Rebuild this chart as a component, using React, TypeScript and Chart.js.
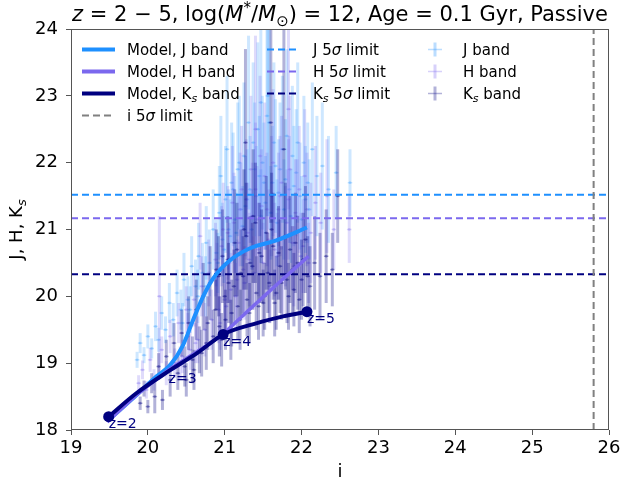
import React, { useEffect, useRef } from 'react';
import { Chart, registerables } from 'chart.js';

Chart.register(...registerables);

const FONT = "'DejaVu Sans', sans-serif";

// ---------- axes ----------
const xTickValues = [19, 20, 21, 22, 23, 24, 25, 26];
const yTickValues = [18, 19, 20, 21, 22, 23, 24];

// ---------- 5 sigma limits ----------
const limitJ = 21.52;
const limitH = 21.17;
const limitKs = 20.33;
const limitI = 25.8;

// ---------- model tracks (z = 2 .. 5) ----------
const modelJ_i = [19.47, 19.85, 20.11, 20.29, 20.45, 20.59, 20.72, 20.85, 21.07, 21.33, 21.68, 22.07];
const modelJ_m = [18.13, 18.52, 18.8, 18.97, 19.25, 19.65, 20.0, 20.27, 20.54, 20.72, 20.84, 21.03];

const modelH_i = [19.47, 19.85, 20.27, 20.64, 20.98, 21.3, 21.7, 22.09];
const modelH_m = [18.12, 18.52, 18.9, 19.17, 19.44, 19.78, 20.2, 20.6];

const modelKs_i = [19.49, 19.85, 20.27, 20.64, 20.98, 21.42, 21.76, 22.07];
const modelKs_m = [18.2, 18.55, 18.88, 19.15, 19.43, 19.6, 19.7, 19.77];

const zLabels = ['z=2', 'z=3', 'z=4', 'z=5'];
const zKs_i = [19.49, 20.27, 20.98, 22.07];
const zKs_m = [18.2, 18.88, 19.43, 19.77];
const zMarkerShown = [true, false, true, true];

// ---------- observed sources ----------
const obsJ_i = [19.86, 19.9, 19.95, 20.0, 20.05, 20.1, 20.14, 20.18, 20.23, 20.28, 20.33, 20.38, 20.43, 20.47, 20.52, 20.57, 20.62, 20.66, 20.71, 20.76, 20.8, 20.85, 20.89, 20.93, 20.97, 21.01, 21.05, 21.09, 21.13, 21.17, 21.21, 21.25, 21.29, 21.33, 21.37, 21.41, 21.45, 21.49, 21.53, 21.58, 21.62, 21.66, 21.7, 21.75, 21.79, 21.84, 21.88, 21.93, 21.98, 22.03, 22.08, 22.14, 22.2, 22.27, 22.35, 22.45, 22.63,
  20.91, 20.95, 20.99, 21.03, 21.07, 21.11, 21.15, 21.19, 21.23, 21.27, 21.31, 21.35, 21.39, 21.43, 21.47, 21.51, 21.55, 21.6, 21.64, 21.68, 21.72, 21.77, 21.81, 21.86, 21.9, 21.95, 22.0, 22.05, 22.1, 20.55, 20.65, 20.75, 20.45, 21.56, 21.47];
const obsJ_m = [19.05, 19.3, 19.12, 19.4, 19.22, 19.55, 19.35, 19.75, 19.5, 19.9, 19.65, 20.05, 19.8, 20.25, 19.95, 20.45, 20.15, 20.6, 20.35, 20.8, 20.5, 21.0, 20.65, 21.25, 20.85, 21.45, 21.0, 21.7, 21.15, 21.9, 21.3, 22.1, 21.45, 21.6, 22.3, 21.5, 21.8, 22.0, 21.4, 22.6, 21.7, 21.95, 21.55, 22.2, 21.75, 21.6, 22.1, 21.85, 21.5, 22.0, 21.7, 22.2, 21.8, 21.95, 21.6, 21.85, 21.7,
  20.5, 21.8, 20.7, 22.2, 20.9, 21.6, 20.95, 22.0, 21.05, 21.35, 22.6, 21.0, 21.9, 22.5, 21.2, 21.7, 22.7, 21.25, 22.3, 21.1, 21.9, 21.3, 22.4, 21.2, 21.65, 22.3, 21.15, 21.45, 21.3, 19.8, 20.0, 20.15, 19.6, 23.0, 22.9];
const obsJ_e = [0.12, 0.15, 0.12, 0.18, 0.15, 0.22, 0.18, 0.25, 0.2, 0.3, 0.25, 0.35, 0.3, 0.4, 0.35, 0.45, 0.4, 0.5, 0.45, 0.55, 0.5, 0.6, 0.5, 0.7, 0.55, 0.8, 0.6, 0.9, 0.65, 1.0, 0.7, 1.1, 0.75, 0.8, 1.2, 0.75, 0.9, 1.0, 0.7, 1.6, 0.85, 1.0, 0.8, 1.1, 0.9, 0.8, 1.05, 0.95, 0.8, 1.0, 0.9, 1.0, 0.9, 0.95, 0.8, 0.7, 0.5,
  0.45, 0.9, 0.5, 1.1, 0.55, 0.85, 0.6, 1.0, 0.6, 0.75, 1.3, 0.6, 1.0, 1.3, 0.7, 0.9, 1.5, 0.7, 1.2, 0.65, 1.0, 0.75, 1.3, 0.7, 0.9, 1.2, 0.65, 0.8, 0.75, 0.35, 0.4, 0.45, 0.3, 1.8, 1.7];

const obsH_i = [19.88, 19.93, 19.98, 20.03, 20.08, 20.15, 20.18, 20.24, 20.29, 20.35, 20.4, 20.45, 20.5, 20.55, 20.6, 20.65, 20.7, 20.74, 20.79, 20.83, 20.88, 20.92, 20.96, 21.0, 21.04, 21.08, 21.12, 21.16, 21.2, 21.24, 21.28, 21.32, 21.36, 21.4, 21.44, 21.48, 21.52, 21.57, 21.61, 21.65, 21.7, 21.74, 21.79, 21.83, 21.88, 21.92, 21.97, 22.02, 22.07, 22.12, 22.18, 22.25, 22.33, 22.42, 22.62,
  20.9, 20.94, 20.98, 21.02, 21.06, 21.1, 21.14, 21.18, 21.22, 21.26, 21.3, 21.34, 21.38, 21.42, 21.46, 21.5, 21.55, 21.59, 21.63, 21.68, 21.72, 21.76, 21.81, 21.85, 21.9, 21.94, 21.99, 22.04, 22.09, 20.52, 20.62, 20.68, 20.42, 21.83, 21.4];
const obsH_m = [18.7, 18.9, 18.6, 19.05, 18.75, 20.0, 19.2, 18.85, 19.4, 19.0, 19.6, 19.1, 19.8, 19.2, 19.95, 19.35, 20.15, 19.5, 20.35, 19.65, 20.55, 19.8, 20.75, 19.95, 20.95, 20.1, 21.1, 20.25, 21.3, 20.4, 21.45, 20.55, 21.2, 21.6, 20.7, 21.35, 21.8, 20.85, 21.5, 20.7, 21.3, 21.7, 20.9, 21.45, 20.8, 21.25, 21.6, 20.75, 21.3, 20.95, 21.4, 21.1, 21.5, 21.0, 21.0,
  20.3, 19.6, 21.0, 19.85, 20.5, 21.4, 20.0, 20.8, 21.6, 20.2, 20.95, 21.9, 20.35, 21.15, 22.1, 20.5, 21.3, 20.15, 22.0, 20.6, 21.5, 20.3, 21.1, 21.9, 20.45, 21.2, 20.6, 21.8, 20.5, 19.4, 19.3, 20.9, 19.0, 22.8, 22.5];
const obsH_e = [0.12, 0.14, 0.13, 0.18, 0.16, 1.2, 0.2, 0.18, 0.25, 0.22, 0.3, 0.25, 0.35, 0.3, 0.4, 0.35, 0.45, 0.4, 0.5, 0.45, 0.55, 0.5, 0.6, 0.5, 0.7, 0.55, 0.75, 0.6, 0.85, 0.65, 0.9, 0.7, 0.8, 1.0, 0.7, 0.85, 1.1, 0.75, 0.9, 0.7, 0.85, 1.0, 0.75, 0.9, 0.7, 0.8, 0.95, 0.7, 0.85, 0.75, 0.85, 0.75, 0.85, 0.6, 0.5,
  0.5, 0.4, 0.7, 0.45, 0.6, 0.85, 0.5, 0.7, 0.95, 0.55, 0.75, 1.1, 0.55, 0.8, 1.2, 0.6, 0.85, 0.55, 1.1, 0.65, 0.9, 0.6, 0.8, 1.1, 0.6, 0.85, 0.65, 1.0, 0.6, 0.35, 0.3, 0.5, 0.25, 1.5, 1.4];

const obsKs_i = [19.9, 19.95, 20.0, 20.05, 20.09, 20.14, 20.19, 20.24, 20.29, 20.34, 20.39, 20.44, 20.48, 20.53, 20.58, 20.63, 20.67, 20.72, 20.76, 20.81, 20.85, 20.89, 20.93, 20.97, 21.01, 21.05, 21.09, 21.13, 21.17, 21.21, 21.25, 21.29, 21.33, 21.37, 21.41, 21.45, 21.5, 21.54, 21.58, 21.63, 21.67, 21.72, 21.77, 21.81, 21.85, 21.9, 21.95, 22.0, 22.05, 22.11, 22.17, 22.24, 22.32, 22.4, 22.47,
  20.88, 20.92, 20.96, 21.0, 21.04, 21.08, 21.12, 21.16, 21.2, 21.24, 21.28, 21.32, 21.36, 21.4, 21.44, 21.48, 21.52, 21.56, 21.61, 21.65, 21.7, 21.74, 21.79, 21.83, 21.88, 21.92, 21.97, 22.02, 22.08, 20.6, 20.7, 20.78, 20.5, 21.6, 21.27];
const obsKs_m = [18.4, 18.62, 18.35, 18.7, 18.5, 18.95, 18.45, 19.1, 18.75, 19.3, 18.85, 19.45, 18.95, 19.6, 19.05, 19.8, 19.2, 20.0, 19.3, 20.2, 19.4, 20.4, 19.55, 20.6, 19.65, 20.2, 19.75, 20.8, 19.85, 20.35, 21.0, 19.95, 20.5, 21.2, 20.05, 20.65, 19.9, 20.95, 20.2, 20.75, 20.05, 20.45, 22.2, 20.25, 20.7, 20.1, 20.5, 20.25, 20.85, 20.15, 20.5, 20.3, 20.6, 20.4, 21.5,
  19.8, 20.3, 19.35, 20.0, 20.55, 19.5, 20.15, 20.7, 19.65, 20.3, 20.9, 19.75, 20.45, 21.1, 19.85, 20.6, 20.0, 20.35, 21.0, 19.9, 20.65, 20.2, 20.9, 20.0, 20.4, 20.8, 19.95, 20.55, 20.3, 18.9, 19.15, 19.6, 18.75, 22.6, 22.3];
const obsKs_e = [0.1, 0.12, 0.1, 0.15, 0.25, 0.2, 0.15, 0.25, 0.25, 0.3, 0.25, 0.35, 0.3, 0.4, 0.35, 0.45, 0.35, 0.5, 0.4, 0.55, 0.4, 0.6, 0.45, 0.7, 0.45, 0.6, 0.5, 0.8, 0.5, 0.65, 0.9, 0.55, 0.7, 1.0, 0.55, 0.75, 0.5, 0.85, 0.6, 0.8, 0.55, 0.7, 1.9, 0.65, 0.8, 0.55, 0.7, 0.6, 0.8, 0.6, 0.7, 0.65, 0.7, 0.55, 0.7,
  0.45, 0.6, 0.4, 0.5, 0.65, 0.45, 0.55, 0.7, 0.45, 0.6, 0.8, 0.45, 0.65, 0.9, 0.5, 0.7, 0.5, 0.6, 0.85, 0.5, 0.7, 0.55, 0.8, 0.5, 0.65, 0.75, 0.5, 0.7, 0.6, 0.3, 0.35, 0.4, 0.25, 1.5, 1.4];

const obsXErr = 0.03;

// ---------- colours ----------
const C_J = '#1e90ff';
const C_H = '#7b68ee';
const C_KS = '#000080';
const C_I = '#808080';
const BAR_J = 'rgba(30,144,255,0.22)';
const BAR_H = 'rgba(123,104,238,0.24)';
const BAR_KS = 'rgba(0,0,128,0.3)';
const AXIS_C = '#555555';

type Part = { t: string; it?: boolean; sub?: boolean; sup?: boolean };

function partFont(p: Part, size: number) {
  const s = p.sub || p.sup ? Math.round(size * 0.7) : size;
  return `${p.it ? 'italic ' : ''}${s}px ${FONT}`;
}

function richWidth(ctx: CanvasRenderingContext2D, parts: Part[], size: number) {
  let w = 0;
  for (const p of parts) {
    ctx.font = partFont(p, size);
    w += ctx.measureText(p.t).width;
  }
  return w;
}

function drawRich(ctx: CanvasRenderingContext2D, parts: Part[], x: number, y: number, size: number, align: 'left' | 'center', color: string) {
  ctx.save();
  ctx.fillStyle = color;
  ctx.textBaseline = 'alphabetic';
  ctx.textAlign = 'left';
  const w = richWidth(ctx, parts, size);
  let cx = align === 'center' ? x - w / 2 : x;
  for (const p of parts) {
    ctx.font = partFont(p, size);
    const dy = p.sub ? size * 0.22 : p.sup ? -size * 0.4 : 0;
    ctx.fillText(p.t, cx, y + dy);
    cx += ctx.measureText(p.t).width;
  }
  ctx.restore();
}

const bands = [
  { i: obsJ_i, m: obsJ_m, e: obsJ_e, color: BAR_J },
  { i: obsH_i, m: obsH_m, e: obsH_e, color: BAR_H },
  { i: obsKs_i, m: obsKs_m, e: obsKs_e, color: BAR_KS },
];

const errorBarPlugin = {
  id: 'errorBars',
  beforeDatasetsDraw(chart: any) {
    const { ctx, chartArea: a, scales } = chart;
    const xs = scales.x;
    const ys = scales.y;
    ctx.save();
    ctx.beginPath();
    ctx.rect(a.left, a.top, a.right - a.left, a.bottom - a.top);
    ctx.clip();
    ctx.lineCap = 'butt';
    for (const b of bands) {
      ctx.strokeStyle = b.color;
      ctx.fillStyle = b.color;
      for (let k = 0; k < b.i.length; k++) {
        const px = xs.getPixelForValue(b.i[k]);
        const py = ys.getPixelForValue(b.m[k]);
        ctx.lineWidth = 3;
        ctx.beginPath();
        ctx.moveTo(px, ys.getPixelForValue(b.m[k] - b.e[k]));
        ctx.lineTo(px, ys.getPixelForValue(b.m[k] + b.e[k]));
        ctx.stroke();
        ctx.lineWidth = 1.5;
        ctx.beginPath();
        ctx.moveTo(xs.getPixelForValue(b.i[k] - obsXErr), py);
        ctx.lineTo(xs.getPixelForValue(b.i[k] + obsXErr), py);
        ctx.stroke();
        ctx.beginPath();
        ctx.arc(px, py, 1.4, 0, Math.PI * 2);
        ctx.fill();
      }
    }
    ctx.restore();
  },
};

const overlayPlugin = {
  id: 'overlay',
  afterDatasetsDraw(chart: any) {
    const { ctx, scales } = chart;
    ctx.save();
    ctx.font = `14px ${FONT}`;
    ctx.fillStyle = C_KS;
    ctx.textAlign = 'left';
    ctx.textBaseline = 'top';
    for (let k = 0; k < zLabels.length; k++) {
      const px = scales.x.getPixelForValue(zKs_i[k]);
      const py = scales.y.getPixelForValue(zKs_m[k]);
      ctx.fillText(zLabels[k], px, py + 1);
    }
    ctx.restore();
  },
  afterDraw(chart: any) {
    const { ctx, chartArea: a } = chart;
    ctx.save();
    // frame
    ctx.strokeStyle = AXIS_C;
    ctx.lineWidth = 1;
    ctx.strokeRect(a.left + 0.5, a.top + 0.5, a.right - a.left - 1, a.bottom - a.top - 1);

    // title
    const title: Part[] = [
      { t: 'z', it: true },
      { t: ' = 2 − 5, log(' },
      { t: 'M', it: true },
      { t: '*', sup: true },
      { t: '/' },
      { t: 'M', it: true },
      { t: '⊙', sub: true },
      { t: ') = 12, Age = 0.1 Gyr, Passive' },
    ];
    drawRich(ctx, title, (a.left + a.right) / 2, 21, 21, 'center', '#000');

    // x label
    drawRich(ctx, [{ t: 'i' }], (a.left + a.right) / 2, 477, 18, 'center', '#000');

    // y label
    ctx.save();
    ctx.translate(22, (a.top + a.bottom) / 2);
    ctx.rotate(-Math.PI / 2);
    drawRich(ctx, [{ t: 'J, H, K' }, { t: 's', it: true, sub: true }], 0, 0, 18, 'center', '#000');
    ctx.restore();

    // legend
    const fs = 15;
    const rows = [49.5, 71.5, 93.5, 115.5];
    const line = (x1: number, x2: number, y: number, color: string, w: number, dash: number[]) => {
      ctx.save();
      ctx.strokeStyle = color;
      ctx.lineWidth = w;
      ctx.setLineDash(dash);
      ctx.beginPath();
      ctx.moveTo(x1, y);
      ctx.lineTo(x2, y);
      ctx.stroke();
      ctx.restore();
    };
    const text = (parts: Part[], x: number, y: number) => drawRich(ctx, parts, x, y + fs * 0.36, fs, 'left', '#000');

    // column 1
    line(82, 115, rows[0], C_J, 4, []);
    text([{ t: 'Model, J band' }], 127, rows[0]);
    line(82, 115, rows[1], C_H, 4, []);
    text([{ t: 'Model, H band' }], 127, rows[1]);
    line(82, 115, rows[2], C_KS, 4, []);
    text([{ t: 'Model, K' }, { t: 's', it: true, sub: true }, { t: ' band' }], 127, rows[2]);
    line(82, 115, rows[3], C_I, 2, [7, 4]);
    text([{ t: 'i 5' }, { t: 'σ', it: true }, { t: ' limit' }], 127, rows[3]);

    // column 2
    line(267, 300, rows[0], C_J, 2, [7, 4]);
    text([{ t: 'J 5' }, { t: 'σ', it: true }, { t: ' limit' }], 313, rows[0]);
    line(267, 300, rows[1], C_H, 2, [7, 4]);
    text([{ t: 'H 5' }, { t: 'σ', it: true }, { t: ' limit' }], 313, rows[1]);
    line(267, 300, rows[2], C_KS, 2, [7, 4]);
    text([{ t: 'K' }, { t: 's', it: true, sub: true }, { t: ' 5' }, { t: 'σ', it: true }, { t: ' limit' }], 313, rows[2]);

    // column 3
    const plus = (cx: number, cy: number, color: string) => {
      ctx.save();
      ctx.strokeStyle = color;
      ctx.lineWidth = 3;
      ctx.beginPath();
      ctx.moveTo(cx, cy - 7);
      ctx.lineTo(cx, cy + 7);
      ctx.stroke();
      ctx.lineWidth = 1.5;
      ctx.beginPath();
      ctx.moveTo(cx - 7, cy);
      ctx.lineTo(cx + 7, cy);
      ctx.stroke();
      ctx.restore();
    };
    plus(435, rows[0], 'rgba(30,144,255,0.3)');
    text([{ t: 'J band' }], 463, rows[0]);
    plus(435, rows[1], 'rgba(123,104,238,0.3)');
    text([{ t: 'H band' }], 463, rows[1]);
    plus(435, rows[2], 'rgba(0,0,128,0.3)');
    text([{ t: 'K' }, { t: 's', it: true, sub: true }, { t: ' band' }], 463, rows[2]);

    ctx.restore();
  },
};

const toPts = (xs: number[], ys: number[]) => xs.map((x, k) => ({ x, y: ys[k] }));

export default function App() {
  const ref = useRef<HTMLCanvasElement | null>(null);

  useEffect(() => {
    if (!ref.current) return;
    const hline = (v: number, color: string, order: number) => ({
      data: [
        { x: xTickValues[0], y: v },
        { x: xTickValues[xTickValues.length - 1], y: v },
      ],
      showLine: true,
      borderColor: color,
      borderWidth: 2,
      borderDash: [7, 4],
      pointRadius: 0,
      order,
    });
    const chart = new Chart(ref.current, {
      type: 'scatter',
      data: {
        datasets: [
          hline(limitJ, C_J, 20),
          hline(limitH, C_H, 19),
          hline(limitKs, C_KS, 18),
          {
            data: [
              { x: limitI, y: yTickValues[0] },
              { x: limitI, y: yTickValues[yTickValues.length - 1] },
            ],
            showLine: true,
            borderColor: C_I,
            borderWidth: 2,
            borderDash: [7, 4],
            pointRadius: 0,
            order: 17,
          },
          {
            data: toPts(modelJ_i, modelJ_m),
            showLine: true,
            borderColor: C_J,
            borderWidth: 4,
            pointRadius: 0,
            cubicInterpolationMode: 'monotone',
            order: 6,
          },
          {
            data: toPts(modelH_i, modelH_m),
            showLine: true,
            borderColor: C_H,
            borderWidth: 3.5,
            pointRadius: 0,
            tension: 0.1,
            order: 5,
          },
          {
            data: toPts(modelKs_i, modelKs_m),
            showLine: true,
            borderColor: C_KS,
            borderWidth: 4,
            pointRadius: 0,
            cubicInterpolationMode: 'monotone',
            order: 4,
          },
          {
            data: toPts(zKs_i, zKs_m),
            showLine: false,
            pointRadius: zMarkerShown.map((s) => (s ? 5.5 : 0)),
            pointBackgroundColor: C_KS,
            pointBorderColor: C_KS,
            pointBorderWidth: 0,
            order: 3,
          },
        ] as any,
      },
      options: {
        responsive: false,
        maintainAspectRatio: false,
        animation: false,
        devicePixelRatio: 1,
        events: [],
        layout: { padding: { top: 29, right: 16, left: 0, bottom: 0 } },
        plugins: {
          legend: { display: false },
          tooltip: { enabled: false },
          title: { display: false },
        },
        scales: {
          x: {
            type: 'linear',
            min: xTickValues[0],
            max: xTickValues[xTickValues.length - 1],
            afterBuildTicks: (s: any) => {
              s.ticks = xTickValues.map((v) => ({ value: v }));
            },
            afterFit: (s: any) => {
              s.height = 59;
            },
            ticks: {
              color: '#000',
              font: { family: FONT, size: 18 },
              padding: 3,
              maxRotation: 0,
              autoSkip: false,
              callback: (v: any) => String(v),
            },
            grid: { drawOnChartArea: false, drawTicks: true, tickLength: 5, color: AXIS_C },
            border: { display: false },
          },
          y: {
            type: 'linear',
            min: yTickValues[0],
            max: yTickValues[yTickValues.length - 1],
            afterBuildTicks: (s: any) => {
              s.ticks = yTickValues.map((v) => ({ value: v }));
            },
            afterFit: (s: any) => {
              s.width = 71;
            },
            ticks: {
              color: '#000',
              font: { family: FONT, size: 18 },
              padding: 8,
              autoSkip: false,
              callback: (v: any) => String(v),
            },
            grid: { drawOnChartArea: false, drawTicks: true, tickLength: 5, color: AXIS_C },
            border: { display: false },
          },
        },
      } as any,
      plugins: [errorBarPlugin, overlayPlugin],
    });
    return () => chart.destroy();
  }, []);

  return (
    <div style={{ position: 'absolute', left: 0, top: 0, width: 625, height: 489, background: '#fff' }}>
      <canvas ref={ref} width={625} height={489} style={{ width: 625, height: 489, display: 'block' }} />
    </div>
  );
}
